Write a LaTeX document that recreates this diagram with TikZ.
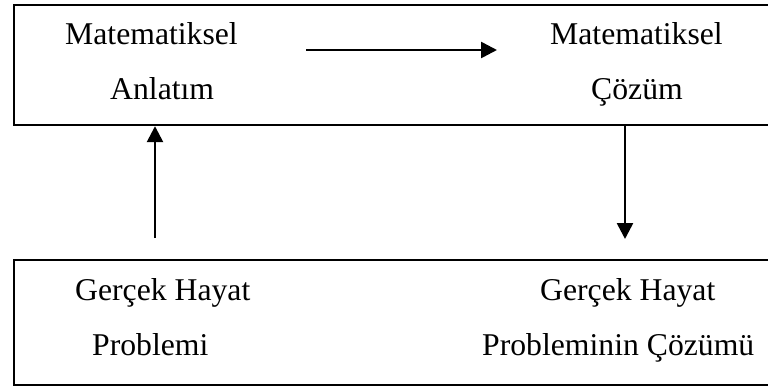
\documentclass[tikz,border=0pt]{standalone}
\usepackage{fontspec}
\setmainfont{Liberation Serif}
\usetikzlibrary{arrows.meta}
\begin{document}
\begin{tikzpicture}[x=1pt,y=-1pt,
  panel/.style={draw, line width=2.2pt, minimum width=759pt, minimum height=120pt, inner sep=0pt, anchor=north west},
  label/.style={inner sep=0pt, anchor=base west, font=\fontsize{31.7}{36}\selectfont},
  flow/.style={line width=2.6pt, -{Triangle[length=16pt,width=16pt]}}]
  \useasboundingbox (0,0) rectangle (768,386);
  % the two panels
  \node[panel] (top) at (13,4) {};
  \node[panel, minimum height=125pt] (bottom) at (13,259) {};
  % texts
  \node[label] (m1) at (65,44) {Matematiksel};
  \node[label] (an) at (110,99) {Anlatım};
  \node[label] (m2) at (550,44) {Matematiksel};
  \node[label] (cz) at (591,99) {Çözüm};
  \node[label] (g1) at (75,300) {Gerçek Hayat};
  \node[label] (pr) at (92,355) {Problemi};
  \node[label] (g2) at (540,300) {Gerçek Hayat};
  \node[label] (pc) at (482,355) {Probleminin Çözümü};
  % arrow ends
  \coordinate (hA) at (306,50);
  \coordinate (hB) at (497,50);
  \coordinate (uA) at (155,238);
  \coordinate (dB) at (625,239);
  \draw[flow] (hA) -- (hB);
  \draw[flow] (uA) -- (uA |- top.south);
  \draw[flow] (dB |- top.south) -- (dB);
\end{tikzpicture}
\end{document}
